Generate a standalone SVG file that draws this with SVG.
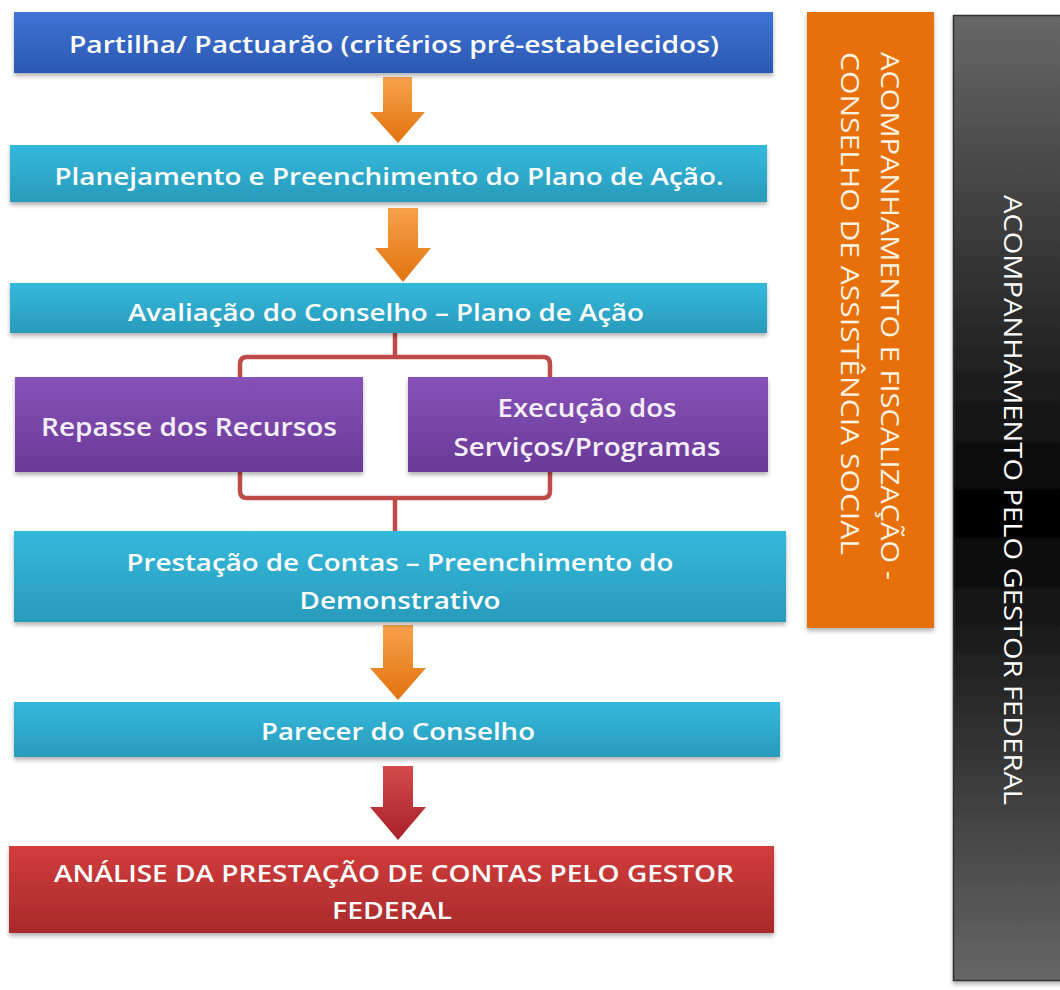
<svg xmlns="http://www.w3.org/2000/svg" width="1060" height="990" viewBox="0 0 1060 990">
<style>
.t{font-family:"Open Sans","Liberation Sans",sans-serif;fill:#ffffff;text-anchor:middle;dominant-baseline:central;font-size:24px;font-weight:600}
.tp{font-size:25px;fill:#f6effa}
.tv{font-family:"Open Sans","Liberation Sans",sans-serif;dominant-baseline:central;text-anchor:start;font-size:26px}
.br{fill:none;stroke:#bf4b48;stroke-width:4.5;stroke-linecap:round;stroke-linejoin:round}
</style>
<defs>
<linearGradient id="gBlue" x1="0" y1="0" x2="0" y2="1"><stop offset="0" stop-color="#3f74d6"/><stop offset="1" stop-color="#2b58b0"/></linearGradient>
<linearGradient id="gCyan" x1="0" y1="0" x2="0" y2="1"><stop offset="0" stop-color="#33b9dc"/><stop offset="1" stop-color="#2a9bbb"/></linearGradient>
<linearGradient id="gPurple" x1="0" y1="0" x2="0" y2="1"><stop offset="0" stop-color="#8652b8"/><stop offset="1" stop-color="#693a98"/></linearGradient>
<linearGradient id="gRed" x1="0" y1="0" x2="0" y2="1"><stop offset="0" stop-color="#d23c3c"/><stop offset="1" stop-color="#a82a2b"/></linearGradient>
<linearGradient id="gArrO" x1="0" y1="0" x2="0" y2="1"><stop offset="0" stop-color="#f7a24a"/><stop offset="1" stop-color="#e2720f"/></linearGradient>
<linearGradient id="gArrR" x1="0" y1="0" x2="0" y2="1"><stop offset="0" stop-color="#d54a4c"/><stop offset="1" stop-color="#a8202a"/></linearGradient>
<linearGradient id="gDark" x1="0" y1="0" x2="0" y2="1"><stop offset="0" stop-color="#676767"/><stop offset="0.48" stop-color="#0a0a0a"/><stop offset="0.51" stop-color="#000000"/><stop offset="1" stop-color="#666666"/></linearGradient>
<filter id="sh" x="-5%" y="-20%" width="110%" height="150%"><feDropShadow dx="0" dy="3" stdDeviation="2" flood-color="#000" flood-opacity="0.3"/></filter>
</defs>
<rect width="1060" height="990" fill="#ffffff"/>

<g id="connectors">
<path d="M383,77 H412 V112 H425 L398,143 L370,112 H383 Z" fill="url(#gArrO)"/>
<path d="M388,208 H418 V248 H431 L403,282 L375,248 H388 Z" fill="url(#gArrO)"/>
<path d="M383,625 H413 V668 H426 L398,700 L370,668 H383 Z" fill="url(#gArrO)"/>
<path d="M383,766 H413 V807 H426 L398,840 L370,807 H383 Z" fill="url(#gArrR)"/>
<path class="br" d="M395,333 V357 M240,382 V364 Q240,357 247,357 H543 Q550,357 550,364 V382"/>
<path class="br" d="M240,468 V491 Q240,498 247,498 H543 Q550,498 550,491 V468 M395,498 V532"/>
</g>

<g id="n1"><rect x="14" y="12" width="759" height="61" fill="url(#gBlue)" filter="url(#sh)"/>
<text class="t" x="394" y="43" textLength="650" lengthAdjust="spacingAndGlyphs">Partilha/ Pactuarão (critérios pré-estabelecidos)</text></g>

<g id="n2"><rect x="10" y="145" width="757" height="57" fill="url(#gCyan)" filter="url(#sh)"/>
<text class="t" x="389" y="175" textLength="669" lengthAdjust="spacingAndGlyphs">Planejamento e Preenchimento do Plano de Ação.</text></g>

<g id="n3"><rect x="10" y="283" width="757" height="50" fill="url(#gCyan)" filter="url(#sh)"/>
<text class="t" x="386" y="311" textLength="516" lengthAdjust="spacingAndGlyphs">Avaliação do Conselho – Plano de Ação</text></g>

<g id="n4"><rect x="15" y="377" width="348" height="95" fill="url(#gPurple)" filter="url(#sh)"/>
<text class="t tp" x="189" y="426" textLength="296" lengthAdjust="spacingAndGlyphs">Repasse dos Recursos</text></g>

<g id="n5"><rect x="408" y="377" width="360" height="95" fill="url(#gPurple)" filter="url(#sh)"/>
<text class="t tp" x="587" y="407" textLength="179" lengthAdjust="spacingAndGlyphs">Execução dos</text>
<text class="t tp" x="587" y="446" textLength="267" lengthAdjust="spacingAndGlyphs">Serviços/Programas</text></g>

<g id="n6"><rect x="14" y="531" width="772" height="91" fill="url(#gCyan)" filter="url(#sh)"/>
<text class="t" x="400" y="561" textLength="547" lengthAdjust="spacingAndGlyphs">Prestação de Contas – Preenchimento do</text>
<text class="t" x="400" y="599" textLength="201" lengthAdjust="spacingAndGlyphs">Demonstrativo</text></g>

<g id="n7"><rect x="14" y="702" width="766" height="55" fill="url(#gCyan)" filter="url(#sh)"/>
<text class="t" x="398" y="730" textLength="274" lengthAdjust="spacingAndGlyphs">Parecer do Conselho</text></g>

<g id="n8"><rect x="9" y="846" width="765" height="87" fill="url(#gRed)" filter="url(#sh)"/>
<text class="t" x="394" y="872" textLength="680" lengthAdjust="spacingAndGlyphs">ANÁLISE DA PRESTAÇÃO DE CONTAS PELO GESTOR</text>
<text class="t" x="392" y="909" textLength="120" lengthAdjust="spacingAndGlyphs">FEDERAL</text></g>

<g id="n9"><rect x="807" y="12" width="127" height="616" fill="#e76f0e" filter="url(#sh)"/>
<text class="tv" fill="#fff4e2" transform="translate(891,52) rotate(90)" textLength="528" lengthAdjust="spacingAndGlyphs">ACOMPANHAMENTO E FISCALIZAÇÃO -</text>
<text class="tv" fill="#fff4e2" transform="translate(851,52) rotate(90)" textLength="503" lengthAdjust="spacingAndGlyphs">CONSELHO DE ASSISTÊNCIA SOCIAL</text></g>

<g id="n10"><rect x="953.5" y="15.5" width="120" height="965" fill="url(#gDark)" stroke="#333333" stroke-width="1.5" filter="url(#sh)"/>
<text class="tv" fill="#ffffff" font-size="27" transform="translate(1014,195) rotate(90)" textLength="610" lengthAdjust="spacingAndGlyphs">ACOMPANHAMENTO PELO GESTOR FEDERAL</text></g>
</svg>
